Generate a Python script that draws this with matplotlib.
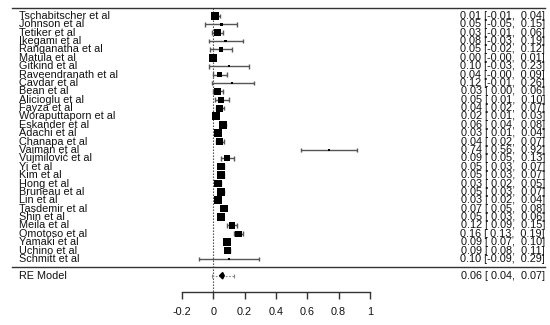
import matplotlib
matplotlib.use("Agg")
import matplotlib.pyplot as plt
import numpy as np

plt.rcParams['font.family'] = ['Liberation Sans', 'DejaVu Sans']

studies = ["Tschabitscher et al", "Johnson et al", "Tetiker et al", "Ikegami et al",
           "Ranganatha et al", "Matula et al", "Gitkind et al", "Raveendranath et al",
           "Cavdar et al", "Bean et al", "Alicioglu et al", "Fayza et al",
           "Woraputtaporn et al", "Eskander et al", "Adachi et al", "Chanapa et al",
           "Vaiman et al", "Vujmilović et al", "Yi et al", "Kim et al", "Hong et al",
           "Bruneau et al", "Lin et al", "Tasdemir et al", "Shin et al", "Meila et al",
           "Omotoso et al", "Yamaki et al", "Uchino et al", "Schmitt et al"]
est = [0.01, 0.05, 0.03, 0.08, 0.05, 0.00, 0.10, 0.04, 0.12, 0.03, 0.05, 0.04,
       0.02, 0.06, 0.03, 0.04, 0.74, 0.09, 0.05, 0.05, 0.03, 0.05, 0.03, 0.07,
       0.05, 0.12, 0.16, 0.09, 0.09, 0.10]
lower = [-0.01, -0.05, -0.01, -0.03, -0.02, -0.00, -0.03, -0.00, -0.01, 0.00, 0.01, 0.02,
         0.01, 0.04, 0.01, 0.02, 0.56, 0.05, 0.03, 0.03, 0.02, 0.03, 0.02, 0.05,
         0.03, 0.09, 0.13, 0.07, 0.08, -0.09]
upper = [0.04, 0.15, 0.06, 0.19, 0.12, 0.01, 0.23, 0.09, 0.26, 0.06, 0.10, 0.07,
         0.03, 0.08, 0.04, 0.07, 0.92, 0.13, 0.07, 0.07, 0.05, 0.07, 0.04, 0.08,
         0.06, 0.15, 0.19, 0.10, 0.11, 0.29]
weights = [4.2, 1.0, 3.7, 0.8, 2.0, 4.6, 0.6, 2.8, 0.5, 3.7, 3.0, 3.8, 4.4, 4.2, 4.3,
           3.8, 0.3, 3.0, 4.0, 4.0, 4.3, 4.0, 4.4, 4.1, 4.2, 3.6, 3.4, 4.3, 4.2, 0.3]

re_label = "RE Model"
re_est, re_lower, re_upper = 0.06, 0.04, 0.07
pi_lower, pi_upper = -0.01, 0.13

xticks = [-0.2, 0, 0.2, 0.4, 0.6, 0.8, 1]
xticklabels = ["-0.2", "0", "0.2", "0.4", "0.6", "0.8", "1"]

def fmt(v):
    s = f"{v:.2f}"
    if s == "-0.00":
        return s
    return s if v < 0 else " " + s if False else s

def annot(e, lo, hi):
    def f(v, pad):
        s = f"{v:.2f}"
        if not s.startswith("-") and pad:
            s = " " + s
        return s
    return f"{e:.2f} [{f(lo, True)}, {f(hi, True)}]"

fig = plt.figure(figsize=(5.5, 3.25), dpi=100)
ax = fig.add_axes([0, 0, 1, 1])
ax.axis('off')
ax.set_xlim(-1.361, 2.149)
ax.set_ylim(-6.88, 31.9)

k = len(studies)
rows = np.arange(k, 0, -1)

fs = 7.8
txtcol = '#111111'
linecol = '#555555'

# lines
xl_left, xl_right = -1.285, 2.117
ax.plot([xl_left, xl_right], [k + 1, k + 1], color='#333333', lw=1.0)
ax.plot([xl_left, xl_right], [0, 0], color='#333333', lw=1.0)

# reference line
ax.plot([0, 0], [k + 1, -3.7], color='#333333', lw=0.8, ls=(0, (1.2, 1.5)))

# CIs
ax.hlines(rows, lower, upper, color=linecol, lw=1.0, zorder=2)
cap = 0.28
ax.vlines(lower, rows - cap, rows + cap, color=linecol, lw=1.0, zorder=2)
ax.vlines(upper, rows - cap, rows + cap, color=linecol, lw=1.0, zorder=2)

w = np.array(weights)
side_px = 2.0 + (w - w.min()) / (w.max() - w.min()) * 6.3
ax.scatter(est, rows, marker='s', s=(side_px * 0.72) ** 2, color='black',
           linewidths=0, zorder=3)

tr_lab = matplotlib.transforms.blended_transform_factory(fig.transFigure, ax.transData)
for r, name, e, lo, hi in zip(rows, studies, est, lower, upper):
    ax.text(19 / 550, r, name, transform=tr_lab, ha='left', va='center',
            fontsize=fs, color=txtcol)
    ax.text(545 / 550, r, annot(e, lo, hi), transform=tr_lab, ha='right',
            va='center', fontsize=fs, color=txtcol)

# RE model
ry = -1
ax.plot([pi_lower, pi_upper], [ry, ry], color='#888888', lw=0.8, ls=(0, (1.5, 1.5)))
ax.vlines([pi_lower, pi_upper], ry - 0.25, ry + 0.25, color='#888888', lw=0.8)
dh = 0.38
ax.fill([re_lower, re_est, re_upper, re_est], [ry, ry + dh, ry, ry - dh],
        color='black', zorder=3)
ax.text(19 / 550, ry, re_label, transform=tr_lab, ha='left', va='center',
        fontsize=fs, color=txtcol)
ax.text(545 / 550, ry, annot(re_est, re_lower, re_upper), transform=tr_lab,
        ha='right', va='center', fontsize=fs, color=txtcol)

# axis
ay = -3
ax.plot([xticks[0], xticks[-1]], [ay, ay], color='#333333', lw=1.0)
ax.vlines(xticks, ay - 0.75, ay, color='#333333', lw=1.0)
for t, lab in zip(xticks, xticklabels):
    ax.text(t, -5.3, lab, ha='center', va='center', fontsize=fs, color=txtcol)

fig.savefig("out.png", dpi=100)
